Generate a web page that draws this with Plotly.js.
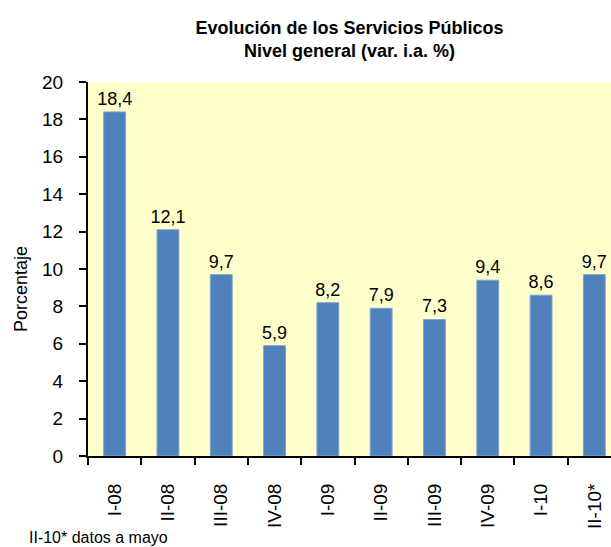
<!DOCTYPE html>
<html>
<head>
<meta charset="utf-8">
<script src="https://cdn.plot.ly/plotly-3.0.1.min.js"></script>
<style>html,body{margin:0;padding:0;background:#fff;}#chart{width:611px;height:547px;}</style>
</head>
<body>
<div id="chart"></div>
<script>
var categories = ["I-08","II-08","III-08","IV-08","I-09","II-09","III-09","IV-09","I-10","II-10*"];
var values = [18.4, 12.1, 9.7, 5.9, 8.2, 7.9, 7.3, 9.4, 8.6, 9.7];
var yTicks = [0,2,4,6,8,10,12,14,16,18,20];

var FONT = "Liberation Sans, Arial, sans-serif";
var W = 611, H = 547, L = 88, T = 82, B = 91;
var plotW = W - L, plotH = H - T - B;
var catW = 53.3;
var xEnd = -0.5 + plotW / catW;

var trace = {
  type: "bar",
  x: categories,
  y: values,
  width: 0.41,
  marker: {color: "#4F81BD", line: {color: "#7FA3CF", width: 1}},
  text: values.map(function(v){return v.toFixed(1).replace(".", ",");}),
  textposition: "outside",
  constraintext: "none",
  textfont: {family: FONT, size: 18, color: "#000"},
  cliponaxis: false,
  hoverinfo: "none"
};

var layout = {
  width: W, height: H,
  margin: {l: L, r: 0, t: T, b: B, pad: 0},
  paper_bgcolor: "#ffffff",
  plot_bgcolor: "#FFFFCC",
  showlegend: false,
  separators: ",.",
  font: {family: FONT, color: "#000"},
  title: {
    text: "<b>Evolución de los Servicios Públicos<br>Nivel general (var. i.a. %)</b>",
    font: {family: FONT, size: 18, color: "#000"},
    x: 0.5, xref: "paper", xanchor: "center",
    y: 1 - 34/H, yref: "container", yanchor: "middle"
  },
  xaxis: {
    type: "category",
    range: [-0.5, xEnd],
    tickson: "boundaries",
    ticks: "outside",
    ticklen: 7,
    tickwidth: 2,
    tickcolor: "#000",
    tickangle: -90,
    tickfont: {family: FONT, size: 19, color: "#000"},
    ticklabelstandoff: 18,
    showline: true,
    linecolor: "#000",
    linewidth: 2,
    showgrid: false,
    zeroline: false,
    fixedrange: true
  },
  yaxis: {
    range: [0, 20],
    tickvals: yTicks,
    ticktext: yTicks.map(String),
    ticks: "outside",
    ticklen: 7,
    tickwidth: 2,
    tickcolor: "#000",
    tickfont: {family: FONT, size: 19, color: "#000"},
    ticklabelstandoff: 12,
    showline: true,
    linecolor: "#000",
    linewidth: 2,
    showgrid: false,
    zeroline: false,
    fixedrange: true
  },
  annotations: [
    {
      text: "Porcentaje",
      xref: "paper", yref: "paper",
      x: (21 - L) / plotW, y: (H - B - 289) / plotH,
      xanchor: "center", yanchor: "middle",
      textangle: -90, showarrow: false,
      font: {family: FONT, size: 18, color: "#000"}
    },
    {
      text: "II-10* datos a mayo",
      xref: "paper", yref: "paper",
      x: (27 - L) / plotW, y: (H - B - 537) / plotH,
      xanchor: "left", yanchor: "middle",
      showarrow: false,
      font: {family: FONT, size: 16, color: "#000"}
    }
  ]
};

Plotly.newPlot("chart", [trace], layout, {staticPlot: true, displayModeBar: false});
</script>
</body>
</html>
